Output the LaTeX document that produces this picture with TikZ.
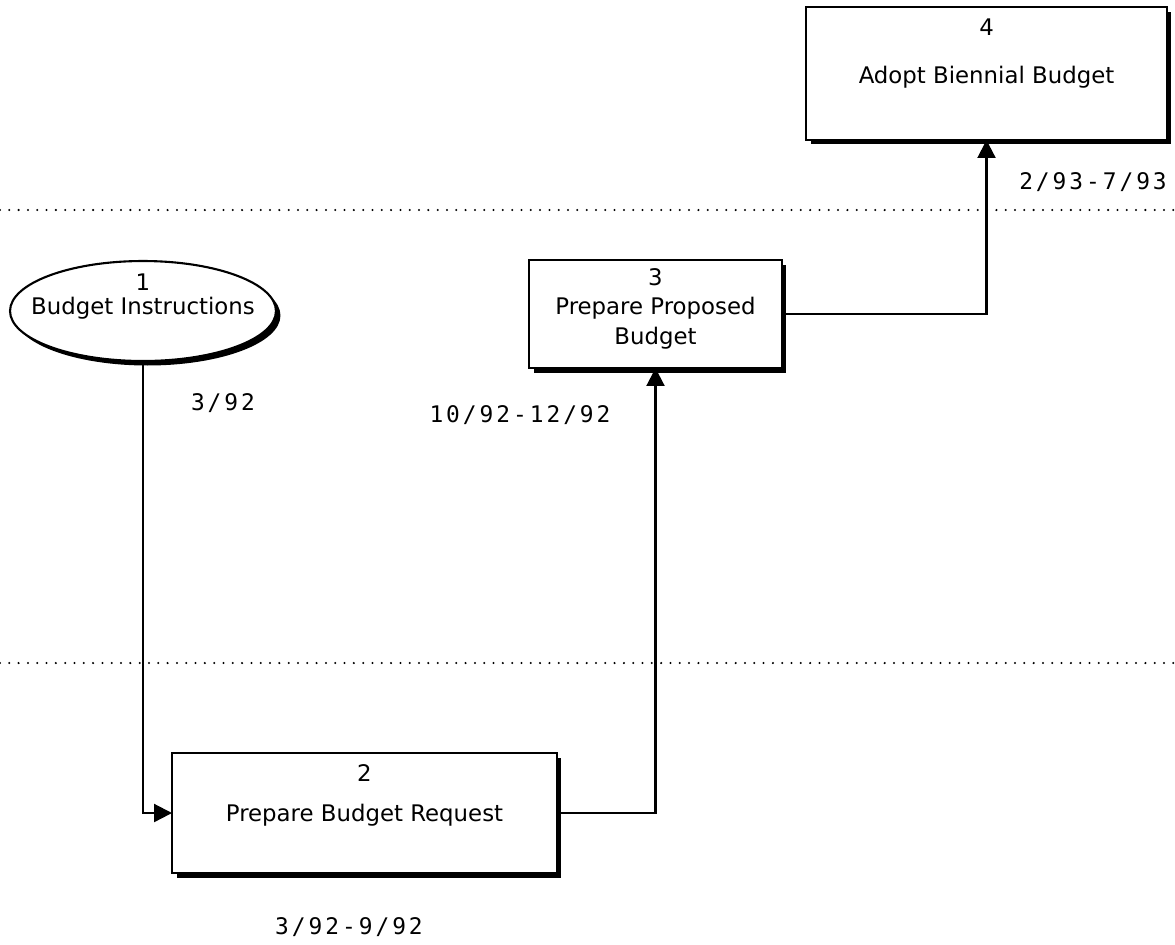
\documentclass[tikz,border=0pt]{standalone}
\usepackage{fontspec}
\setsansfont{DejaVu Sans}
\newfontfamily\budgetDateFont[LetterSpace=13]{DejaVu Sans Mono}
\usetikzlibrary{arrows.meta,shapes.geometric,shadows}

\definecolor{budgetInk}{RGB}{0,0,0}
\definecolor{budgetPaper}{RGB}{255,255,255}

\begin{document}
\begin{tikzpicture}[x=.02cm,y=-.02cm,
      task/.style={draw=budgetInk, fill=budgetPaper, line width=1.2pt,
        inner sep=0pt, outer sep=0pt,
        drop shadow={shadow xshift=.09cm, shadow yshift=-.09cm,
          fill=budgetInk, opacity=1}},
      source/.style={task, ellipse},
      number/.style={font=\fontsize{13}{15}\selectfont\sffamily,
        text=budgetInk},
      title/.style={font=\fontsize{13}{17}\selectfont\sffamily,
        text=budgetInk, align=center},
      date/.style={font=\budgetDateFont\fontsize{13}{15}\selectfont,
        text=budgetInk},
      flow/.style={draw=budgetInk, line width=1.2pt,
        -{Triangle[length=.36cm, width=.36cm]}},
      rule/.style={draw=budgetInk, line width=1.3pt, line cap=round,
        dash pattern=on 0pt off 5.3pt}]
      \useasboundingbox (0,0) rectangle (1175,944);

      % Phase boundaries.
      \draw[rule] (0,210) -- (1175,210);
      \draw[rule] (0,663) -- (1175,663);

      % Steps of the budget cycle.
      \node[source, minimum width=5.32cm, minimum height=2cm]
        (instructions) at (143,311) {};
      \node[number] (instructionsNo) at (143,282) {1};
      \node[title] (instructionsTitle) at (143,308) {Budget Instructions};

      \node[task, minimum width=7.7cm, minimum height=2.4cm]
        (request) at (364.5,813) {};
      \node[number] (requestNo) at (364.5,773) {2};
      \node[title] (requestTitle) at (364.5,815) {Prepare Budget Request};

      \node[task, minimum width=5.06cm, minimum height=2.16cm]
        (proposed) at (655.5,314) {};
      \node[number] (proposedNo) at (655.5,277) {3};
      \node[title] (proposedTitle) at (655.5,323)
        {Prepare Proposed\\Budget};

      \node[task, minimum width=7.22cm, minimum height=2.66cm]
        (adopt) at (986.5,73.5) {};
      \node[number] (adoptNo) at (986.5,27) {4};
      \node[title] (adoptTitle) at (986.5,77) {Adopt Biennial Budget};

      % Flow between the steps.
      \draw[flow] (instructions.south) |- (request.west);
      \draw[flow] (request.east) -| (proposed.south);
      \draw[flow] (proposed.east) -| (adopt.south);

      % Time spans.
      \node[date] (instructionsDate) at (223,403) {3/92};
      \node[date] (requestDate) at (349,927) {3/92-9/92};
      \node[date] (proposedDate) at (520,415) {10/92-12/92};
      \node[date] (adoptDate) at (1093,182) {2/93-7/93};
    \end{tikzpicture}
\end{document}
